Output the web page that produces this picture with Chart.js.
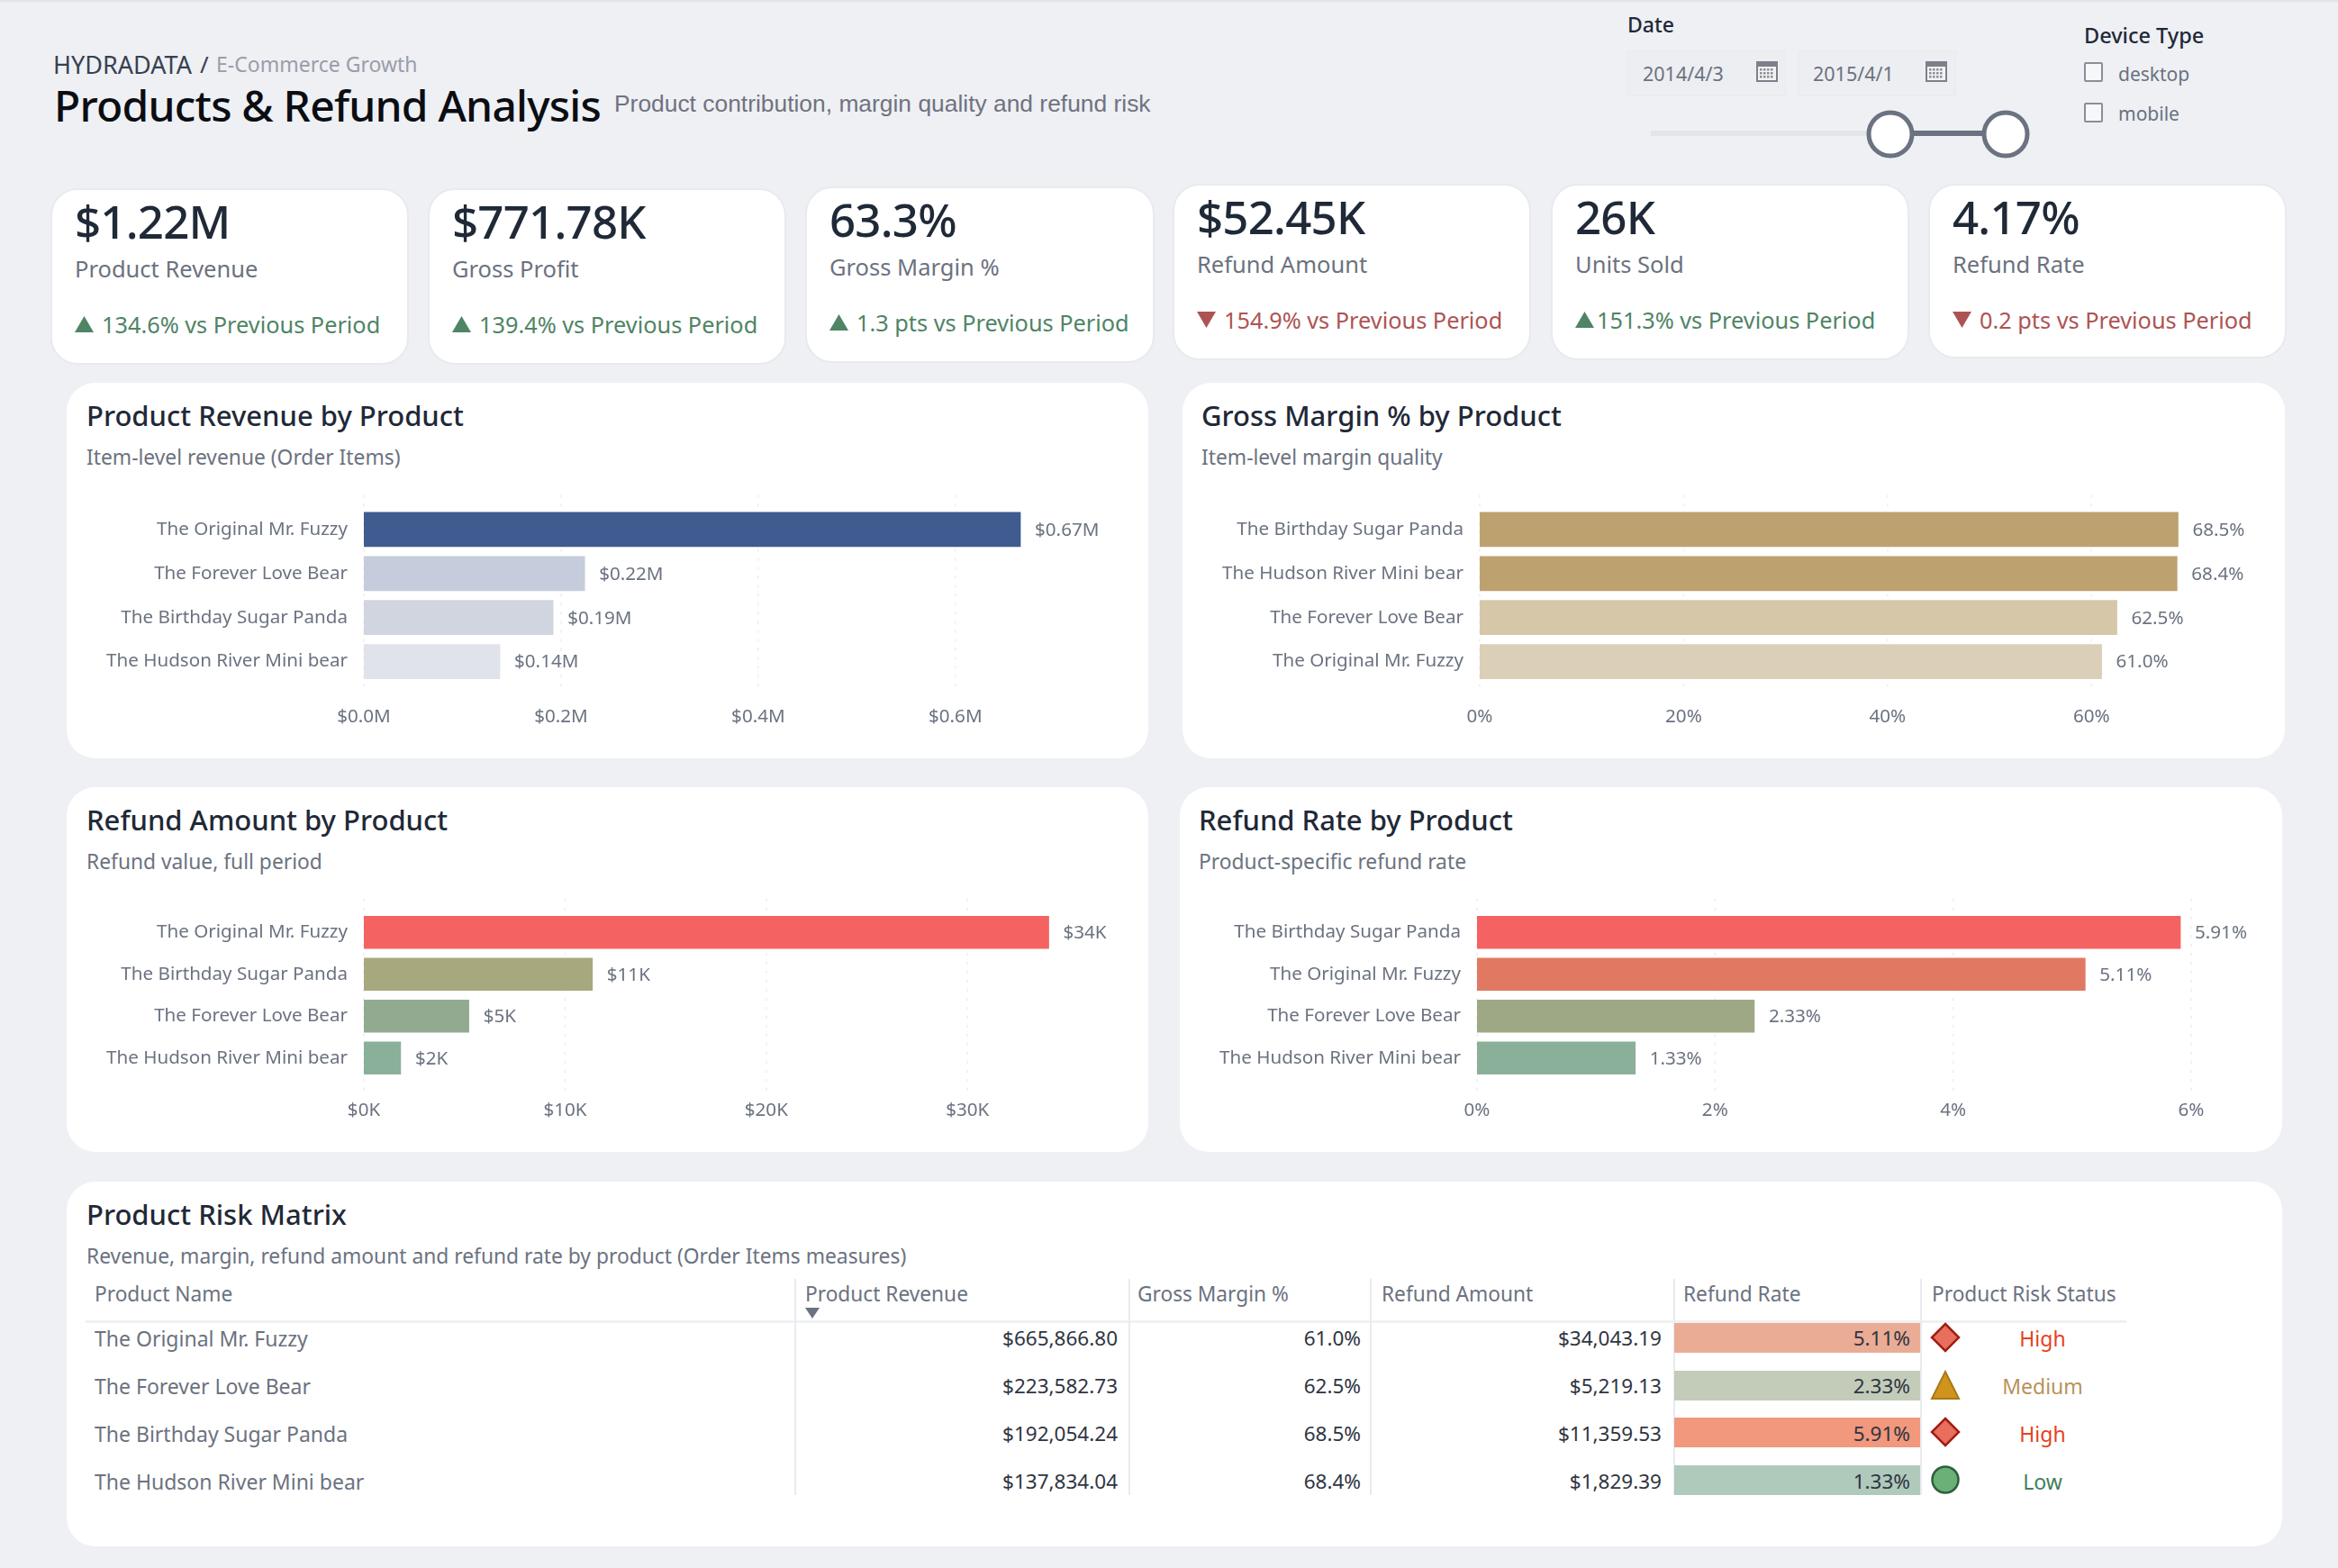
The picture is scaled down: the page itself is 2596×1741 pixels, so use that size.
<!DOCTYPE html>
<html>
<head>
<meta charset="utf-8">
<title>Products & Refund Analysis</title>
<script src="https://cdn.jsdelivr.net/npm/chart.js@4"></script>
<style>
  html, body { margin: 0; padding: 0; background: #eef0f4; }
  body { position: relative; width: 2596px; height: 1741px; overflow: hidden; font-family: "Noto Sans", sans-serif; }
  .topline { position: absolute; left: 0; top: 0; width: 2596px; height: 4px; background: linear-gradient(#dfe1e6, #eef0f4); }
  .card { position: absolute; background: #fff; box-sizing: border-box; border: 2px solid #e8eaef; border-radius: 30px; }
  .panel { position: absolute; background: #fff; border-radius: 32px; }
  .t { position: absolute; white-space: nowrap; line-height: 1; transform: translateY(-50%); }
  canvas { position: absolute; display: block; }
  .vline { position: absolute; width: 2px; background: #e9ebef; }
  .hline { position: absolute; height: 3px; background: #eff1f4; }
  .box { position: absolute; background: #eceef2; border: 1px solid #e8eaee; box-sizing: border-box; }
  .check { position: absolute; width: 21px; height: 22px; box-sizing: border-box; border: 2px solid #8b8e97; border-radius: 2px; background: #f6f7f9; }
  svg { position: absolute; overflow: visible; }
</style>
</head>
<body>
<div class="topline"></div>
<script>
// ---- data ----
const kpiValues = ['$1.22M', '$771.78K', '63.3%', '$52.45K', '26K', '4.17%'];
const kpiLabels = ['Product Revenue', 'Gross Profit', 'Gross Margin %', 'Refund Amount', 'Units Sold', 'Refund Rate'];
const kpiDeltas = ['134.6% vs Previous Period', '139.4% vs Previous Period', '1.3 pts vs Previous Period',
                   '154.9% vs Previous Period', '151.3% vs Previous Period', '0.2 pts vs Previous Period'];
const kpiGood = [true, true, true, false, true, false];

const revProducts = ['The Original Mr. Fuzzy', 'The Forever Love Bear', 'The Birthday Sugar Panda', 'The Hudson River Mini bear'];
const revValues = [0.666, 0.224, 0.192, 0.138];
const revTicks = [0, 0.2, 0.4, 0.6];

const marginProducts = ['The Birthday Sugar Panda', 'The Hudson River Mini bear', 'The Forever Love Bear', 'The Original Mr. Fuzzy'];
const marginValues = [68.5, 68.4, 62.5, 61.0];
const marginTicks = [0, 20, 40, 60];

const refundProducts = ['The Original Mr. Fuzzy', 'The Birthday Sugar Panda', 'The Forever Love Bear', 'The Hudson River Mini bear'];
const refundValues = [34.04, 11.36, 5.22, 1.83];
const refundTicks = [0, 10, 20, 30];

const rateProducts = ['The Birthday Sugar Panda', 'The Original Mr. Fuzzy', 'The Forever Love Bear', 'The Hudson River Mini bear'];
const rateValues = [5.91, 5.11, 2.33, 1.33];
const rateTicks = [0, 2, 4, 6];

const tableHeaders = ['Product Name', 'Product Revenue', 'Gross Margin %', 'Refund Amount', 'Refund Rate', 'Product Risk Status'];
const tableNames = ['The Original Mr. Fuzzy', 'The Forever Love Bear', 'The Birthday Sugar Panda', 'The Hudson River Mini bear'];
const tableRevenue = ['$665,866.80', '$223,582.73', '$192,054.24', '$137,834.04'];
const tableMargin = ['61.0%', '62.5%', '68.5%', '68.4%'];
const tableRefund = ['$34,043.19', '$5,219.13', '$11,359.53', '$1,829.39'];
const tableRate = ['5.11%', '2.33%', '5.91%', '1.33%'];
const tableStatus = ['High', 'Medium', 'High', 'Low'];

// ---- colours ----
const revColors = ['#3f5b8f', '#c5ccdb', '#d0d5e0', '#e0e3e9'];
const marginColors = ['#bda16f', '#bda16f', '#d6c7a8', '#dccfb8'];
const refundColors = ['#f56262', '#a8a87f', '#92ab90', '#8ab09a'];
const rateColors = ['#f56262', '#e07862', '#9fa884', '#8ab09a'];
const heatColors = ['#eaac95', '#c3ccb9', '#f1987d', '#afc9bb'];
const statusColors = { High: '#e8401c', Medium: '#b8935a', Low: '#3d7f5a' };

const FONT = '"Noto Sans", sans-serif';
const INK = '#1f2937', GRAY = '#6b7280';
const CHART_FONT_SIZE = 20.6;

function addText(text, x, y, size, color, extra) {
  const d = document.createElement('div');
  d.className = 't';
  d.textContent = text;
  d.style.cssText = `left:${x}px;top:${y}px;font-size:${size}px;color:${color};` + (extra || '');
  document.body.appendChild(d);
  return d;
}

function addDiv(cls, x, y, w, h, extra) {
  const d = document.createElement('div');
  d.className = cls;
  d.style.cssText = `left:${x}px;top:${y}px;width:${w}px;height:${h}px;` + (extra || '');
  document.body.appendChild(d);
  return d;
}

function addSvg(x, y, w, h, inner) {
  const holder = document.createElement('div');
  holder.innerHTML = `<svg style="left:${x}px;top:${y}px" width="${w}" height="${h}" viewBox="0 0 ${w} ${h}">${inner}</svg>`;
  document.body.appendChild(holder.firstChild);
}

// ---- header ----
addText('HYDRADATA', 59, 71, 27, '#374151');
addText('/', 222, 71, 26, '#374151');
addText('E-Commerce Growth', 240, 71, 23, '#9a9da8');
addText('Products & Refund Analysis', 60, 117, 48, '#0b0d12', 'font-weight:500;letter-spacing:-0.8px;');
addText('Product contribution, margin quality and refund risk', 682, 115, 26.4, '#70727f', 'font-family:"Liberation Sans",sans-serif;');

// ---- filters ----
addText('Date', 1807, 27, 23, INK, 'font-weight:500;');
addDiv('box', 1807, 56, 176, 51);
addDiv('box', 1996, 56, 176, 51);
addText('2014/4/3', 1824, 82, 21.5, GRAY);
addText('2015/4/1', 2013, 82, 21.5, GRAY);
function calendarIcon(x, y) {
  let cells = '';
  for (let r = 0; r < 3; r++) for (let c = 0; c < 4; c++) {
    cells += `<rect x="${4 + c * 4}" y="${9 + r * 4}" width="2.5" height="2.5" fill="#8b8e97"/>`;
  }
  addSvg(x, y, 24, 24, `<rect x="1" y="2" width="22" height="21" fill="#f2f3f5" stroke="#7d808a" stroke-width="2"/>
    <rect x="1" y="2" width="22" height="5" fill="#7d808a"/>${cells}`);
}
calendarIcon(1950, 67);
calendarIcon(2138, 67);
addDiv('box', 1833, 145, 265, 6, 'background:#e3e5ea;border:none;');
addDiv('box', 2098, 145, 128, 6, 'background:#6b7280;border:none;');
[2099, 2227].forEach(cx => addSvg(cx - 27, 122, 54, 54,
  '<circle cx="27" cy="27" r="24" fill="#fff" stroke="#6b7280" stroke-width="5"/>'));

addText('Device Type', 2314, 40, 23.5, INK, 'font-weight:500;');
addDiv('check', 2314, 69, 21, 22);
addDiv('check', 2314, 114, 21, 22);
addText('desktop', 2352, 82, 21, GRAY);
addText('mobile', 2352, 126, 21, GRAY);

// ---- KPI cards ----
const kpiBoxes = [[56, 209, 398, 196], [475, 209, 398, 196], [894, 207, 388, 196],
                  [1302, 204, 398, 196], [1722, 204, 398, 196], [2141, 204, 398, 194]];
kpiValues.forEach((v, i) => {
  const [x, y, w, h] = kpiBoxes[i];
  addDiv('card', x, y, w, h);
  addText(v, x + 27, y + 36, 51, INK, 'font-weight:500;letter-spacing:-0.8px;');
  addText(kpiLabels[i], x + 27, y + 90, 25.5, GRAY);
  const col = kpiGood[i] ? '#4f8465' : '#ae5353';
  const points = kpiGood[i] ? '0,18 10.5,0 21,18' : '0,0 21,0 10.5,18';
  addSvg(x + 27, y + 142, 21, 18, `<polygon points="${points}" fill="${col}"/>`);
  const dx = i === 4 ? 51 : 57;
  addText(kpiDeltas[i], x + dx, y + 151.5, 25.3, col);
});

// ---- chart panels ----
function addPanel(x, y, w, h, title, sub, tx) {
  addDiv('panel', x, y, w, h);
  addText(title, tx, y + 36, 31, INK, 'font-weight:500;');
  addText(sub, tx, y + 83, 22.8, GRAY);
}

const barExtras = {
  id: 'barExtras',
  beforeDatasetsDraw(chart, args, opts) {
    const { ctx, chartArea, scales } = chart;
    ctx.save();
    ctx.strokeStyle = '#f0f1f4';
    ctx.lineWidth = 2;
    ctx.setLineDash([3, 7]);
    scales.x.ticks.forEach(t => {
      const px = scales.x.getPixelForValue(t.value);
      ctx.beginPath();
      ctx.moveTo(px, chartArea.top - opts.overTop);
      ctx.lineTo(px, chartArea.bottom + opts.overBottom);
      ctx.stroke();
    });
    ctx.restore();
  },
  afterDatasetsDraw(chart, args, opts) {
    const { ctx } = chart;
    const values = chart.data.datasets[0].data;
    ctx.save();
    ctx.font = `${CHART_FONT_SIZE}px ${FONT}`;
    ctx.fillStyle = GRAY;
    ctx.textBaseline = 'middle';
    chart.getDatasetMeta(0).data.forEach((bar, i) => {
      ctx.fillText(opts.fmt(values[i]), bar.x + 16, bar.y + 1);
    });
    ctx.restore();
  }
};

function barChart(g, labels, values, colors, ticks, xMax, fmtTick, fmtVal) {
  const c = document.createElement('canvas');
  c.width = g.w; c.height = g.h;
  c.style.cssText = `left:${g.x}px;top:${g.y}px;width:${g.w}px;height:${g.h}px;`;
  document.body.appendChild(c);
  new Chart(c, {
    type: 'bar',
    data: { labels, datasets: [{ data: values, backgroundColor: colors, barThickness: g.bar }] },
    plugins: [barExtras],
    options: {
      indexAxis: 'y',
      responsive: false,
      animation: false,
      devicePixelRatio: 1,
      layout: { padding: { top: g.plotTop - g.y, left: 0, right: g.x + g.w - g.plotRight, bottom: 0 } },
      plugins: { legend: { display: false }, tooltip: { enabled: false },
        barExtras: { fmt: fmtVal, overTop: g.overTop, overBottom: g.overBottom } },
      scales: {
        x: {
          min: 0, max: xMax,
          grid: { display: false },
          border: { display: false },
          afterBuildTicks: s => { s.ticks = ticks.map(value => ({ value })); },
          afterFit: s => { s.height = g.y + g.h - g.plotBottom; },
          ticks: { callback: fmtTick, color: GRAY, padding: g.tickPad, maxRotation: 0, autoSkip: false, font: { family: FONT, size: CHART_FONT_SIZE } }
        },
        y: {
          grid: { display: false, drawTicks: false },
          border: { display: false },
          afterFit: s => { s.width = g.plotLeft - g.x; },
          ticks: { color: GRAY, padding: 18, font: { family: FONT, size: CHART_FONT_SIZE } }
        }
      }
    }
  });
}

addPanel(74, 425, 1201, 417, 'Product Revenue by Product', 'Item-level revenue (Order Items)', 96);
addPanel(1313, 425, 1224, 417, 'Gross Margin % by Product', 'Item-level margin quality', 1334);
addPanel(74, 874, 1201, 405, 'Refund Amount by Product', 'Refund value, full period', 96);
addPanel(1310, 874, 1224, 405, 'Refund Rate by Product', 'Product-specific refund rate', 1331);

barChart({ x: 74, y: 425, w: 1201, h: 417, plotLeft: 404, plotRight: 1225, plotTop: 563.5, plotBottom: 759, bar: 38, tickPad: 17, overTop: 14, overBottom: 6 },
  revProducts, revValues, revColors, revTicks, 0.75, v => '$' + v.toFixed(1) + 'M', v => '$' + v.toFixed(2) + 'M');
barChart({ x: 1313, y: 425, w: 1224, h: 417, plotLeft: 1643, plotRight: 2526, plotTop: 563.5, plotBottom: 759, bar: 38, tickPad: 17, overTop: 14, overBottom: 6 },
  marginProducts, marginValues, marginColors, marginTicks, 78, v => v + '%', v => v.toFixed(1) + '%');
barChart({ x: 74, y: 874, w: 1201, h: 405, plotLeft: 404, plotRight: 1253, plotTop: 1012, plotBottom: 1198, bar: 36, tickPad: 15, overTop: 14, overBottom: 15 },
  refundProducts, refundValues, refundColors, refundTicks, 38, v => '$' + v + 'K', v => '$' + Math.round(v) + 'K');
barChart({ x: 1310, y: 874, w: 1224, h: 405, plotLeft: 1640, plotRight: 2499, plotTop: 1012, plotBottom: 1198, bar: 36, tickPad: 15, overTop: 14, overBottom: 15 },
  rateProducts, rateValues, rateColors, rateTicks, 6.5, v => v + '%', v => v.toFixed(2) + '%');

// ---- risk matrix ----
addPanel(74, 1312, 2460, 405, 'Product Risk Matrix', 'Revenue, margin, refund amount and refund rate by product (Order Items measures)', 96);

const colLines = [882, 1253, 1521, 1858, 2132];
const headX = [105, 894, 1263, 1534, 1869, 2145];
const rowY = [1486, 1539, 1592, 1645];
const bandY = [1469, 1522, 1574, 1627];

addDiv('hline', 95, 1466, 2266, 3);
colLines.forEach(x => addDiv('vline', x, 1420, 2, 240));
tableHeaders.forEach((h, i) => addText(h, headX[i], 1437, 22.7, GRAY));
addSvg(894, 1452, 16, 12, '<polygon points="0,0 16,0 8,12" fill="#6b7280"/>');

function rightText(text, right, y, size, color) {
  const d = addText(text, 0, y, size, color);
  d.style.left = 'auto';
  d.style.right = (2596 - right) + 'px';
}

function riskIcon(status, y) {
  if (status === 'High') {
    addSvg(2144, y - 16, 32, 32, '<polygon points="16,1 31,16 16,31 1,16" fill="#e86f5e" stroke="#a11d12" stroke-width="2.5"/>');
  } else if (status === 'Medium') {
    addSvg(2144, y - 16, 32, 32, '<polygon points="16,1 31,31 1,31" fill="#d0941d" stroke="#a9781a" stroke-width="2"/>');
  } else {
    addSvg(2144, y - 16, 32, 32, '<circle cx="16" cy="16" r="14.5" fill="#6bb077" stroke="#2d5f3e" stroke-width="2.5"/>');
  }
}

tableNames.forEach((name, i) => {
  const y = rowY[i];
  addDiv('box', 1859, bandY[i], 273, 33, `background:${heatColors[i]};border:none;`);
  addText(name, 105, y, 23, GRAY);
  rightText(tableRevenue[i], 1241, y, 22.5, '#2f3542');
  rightText(tableMargin[i], 1511, y, 22.5, '#2f3542');
  rightText(tableRefund[i], 1845, y, 22.5, '#2f3542');
  rightText(tableRate[i], 2121, y, 22.5, '#2f3542');
  riskIcon(tableStatus[i], bandY[i] + 16);
  addText(tableStatus[i], 2268, y, 23, statusColors[tableStatus[i]], 'transform:translate(-50%,-50%);');
});
</script>
</body>
</html>
